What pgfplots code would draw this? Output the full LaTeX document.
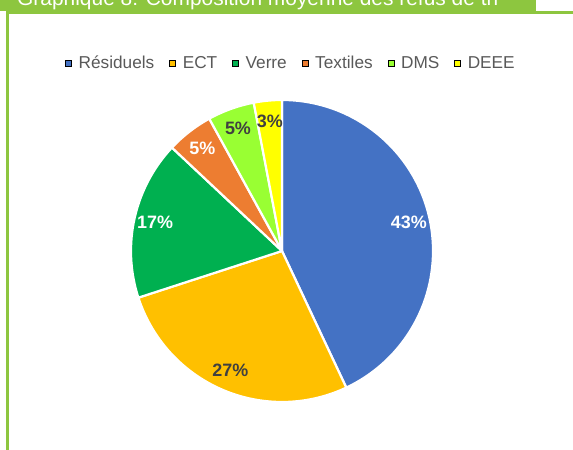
\documentclass[border=0pt]{standalone}
\usepackage{fontspec}
\setmainfont{Liberation Sans}
\usepackage{pgfplots}
\pgfplotsset{compat=1.18}
\usepackage{pgfplotstable}

\definecolor{frame}{HTML}{8DC63F}
\definecolor{legtext}{HTML}{595959}
\definecolor{dark}{HTML}{404040}
% slice colours, in table order
\definecolor{pie0}{HTML}{4472C4}
\definecolor{pie1}{HTML}{FFC000}
\definecolor{pie2}{HTML}{00B050}
\definecolor{pie3}{HTML}{ED7D31}
\definecolor{pie4}{HTML}{99FF33}
\definecolor{pie5}{HTML}{FFFF00}
% label colours
\colorlet{lab0}{white}
\colorlet{lab1}{dark}
\colorlet{lab2}{white}
\colorlet{lab3}{white}
\colorlet{lab4}{dark}
\colorlet{lab5}{dark}

% Résiduels, ECT, Verre, Textiles, DMS, DEEE
\pgfplotstableread{
share
43
27
17
5
5
3
}\pietable

\begin{document}
\begin{tikzpicture}[x=1bp, y=1bp]
\useasboundingbox (0,0) rectangle (573,450);
% title bar (cut at the top) and frame
\fill[frame] (0,439) rectangle (536,450);
\node[anchor=base west, text=white, inner sep=0pt,
      font=\fontsize{21}{21}\selectfont] at (17,444)
  {Graphique 8: Composition moyenne des refus de tri};
\draw[frame, line width=2.5bp] (7.3,0) -- (7.3,437.5) -- (573,437.5);

\begin{axis}[
  x=1bp, y=1bp,
  hide axis, clip=false,
  xmin=-151, xmax=151, ymin=-151, ymax=151,
  at={(282,199)}, anchor=center,
  legend columns=6,
  legend image code/.code={\fill[#1] (0bp,-3bp) rectangle (6bp,3bp);},
  legend style={at={(axis cs:8,188)}, anchor=center, draw=none, fill=none,
    inner sep=0pt, nodes={inner sep=0pt}, text=legtext,
    font=\fontsize{17.3}{20}\selectfont,
    /tikz/every odd column/.append style={column sep=7bp},
    /tikz/every even column/.append style={column sep=15bp}},
]
\addlegendimage{fill=pie0}\addlegendentry{Résiduels}
\addlegendimage{fill=pie1}\addlegendentry{ECT}
\addlegendimage{fill=pie2}\addlegendentry{Verre}
\addlegendimage{fill=pie3}\addlegendentry{Textiles}
\addlegendimage{fill=pie4}\addlegendentry{DMS}
\addlegendimage{fill=pie5}\addlegendentry{DEEE}

\pgfplotsextra{%
  \gdef\cum{0}%
  \pgfplotstableforeachcolumnelement{share}\of\pietable\as\v{%
    \pgfmathsetmacro\a{90-3.6*\cum}%
    \pgfmathsetmacro\b{\a-3.6*\v}%
    \pgfmathsetmacro\m{(\a+\b)/2}%
    \fill[fill=pie\pgfplotstablerow, draw=white, line width=2.2bp, line join=round]
      (axis cs:0,0) -- ++(\a:151bp) arc[start angle=\a, end angle=\b, radius=151bp] -- cycle;
    \path (axis cs:0,0) ++(\m:130bp) node[text=lab\pgfplotstablerow,
      font=\bfseries\fontsize{18}{18}\selectfont] {\v\%};
    \pgfmathsetmacro\c{\cum+\v}\xdef\cum{\c}%
  }%
}
\end{axis}
\end{tikzpicture}
\end{document}
